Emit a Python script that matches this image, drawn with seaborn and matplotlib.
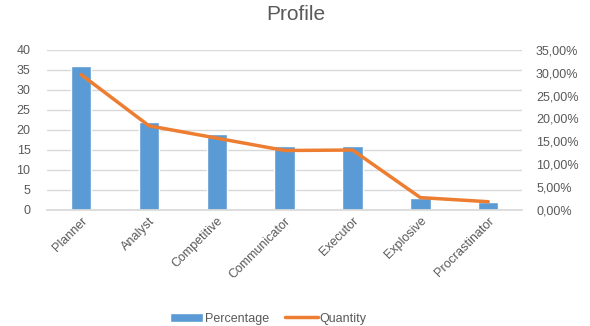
import matplotlib
matplotlib.use("Agg")
import matplotlib.pyplot as plt
import numpy as np
import pandas as pd
import seaborn as sns
from matplotlib.ticker import FuncFormatter

# values
profiles = ["Planner", "Analyst", "Competitive", "Communicator",
            "Executor", "Explosive", "Procrastinator"]
percentage = [36, 22, 19, 16, 16, 3, 2]
quantity = [29.6, 18.4, 15.7, 13.0, 13.1, 2.7, 1.8]  # in %

BAR_COLOR = "#5B9BD5"
LINE_COLOR = "#ED7D31"
TEXT_COLOR = "#595959"
GRID_COLOR = "#D9D9D9"

sns.set_theme(style="white")
plt.rcParams["font.family"] = ["Liberation Sans", "DejaVu Sans"]

df = pd.DataFrame({"profile": profiles, "percentage": percentage, "quantity": quantity})
df["pos"] = np.arange(len(df))

fig = plt.figure(figsize=(5.9, 3.26), dpi=100)
ax = fig.add_axes([0.08, 0.356, 0.805, 0.491])

sns.barplot(data=df, x="profile", y="percentage", color=BAR_COLOR,
            saturation=1, width=0.3, ax=ax, label="Percentage", zorder=2)
ax.set_ylim(0, 40)
ax.set_yticks(range(0, 41, 5))
ax.set_xlim(-0.5, len(df) - 0.5)
ax.yaxis.grid(True, color=GRID_COLOR, linewidth=1)
ax.set_axisbelow(True)
ax.set_xlabel("")
ax.set_ylabel("")
ax.tick_params(axis="both", length=0, colors=TEXT_COLOR, labelsize=9)
ax.tick_params(axis="y", pad=12)
plt.setp(ax.get_xticklabels(), rotation=45, ha="right", rotation_mode="anchor")
for s in ax.spines.values():
    s.set_visible(False)
ax.spines["bottom"].set_visible(True)
ax.spines["bottom"].set_color(GRID_COLOR)

ax2 = ax.twinx()
sns.lineplot(data=df, x="pos", y="quantity", color=LINE_COLOR, linewidth=2.5,
             ax=ax2, label="Quantity", zorder=3)
ax2.set_ylim(0, 35)
ax2.set_yticks(range(0, 36, 5))
ax2.yaxis.set_major_formatter(FuncFormatter(lambda v, _: f"{v:.2f}%".replace(".", ",")))
ax2.set_ylabel("")
ax2.set_xlabel("")
ax2.tick_params(axis="y", length=0, colors=TEXT_COLOR, labelsize=9, pad=10)
for s in ax2.spines.values():
    s.set_visible(False)
ax2.get_legend().remove()
if ax.get_legend() is not None:
    ax.get_legend().remove()

fig.suptitle("Profile", x=0.502, y=0.985, fontsize=15, color=TEXT_COLOR)

h1, l1 = ax.get_legend_handles_labels()
h2, l2 = ax2.get_legend_handles_labels()
fig.legend(h1 + h2, l1 + l2, loc="lower center", bbox_to_anchor=(0.455, -0.03),
           ncol=2, frameon=False, fontsize=9, labelcolor=TEXT_COLOR,
           handlelength=2.6, handletextpad=0.15, columnspacing=1.3)

fig.savefig("out.png", dpi=100)
